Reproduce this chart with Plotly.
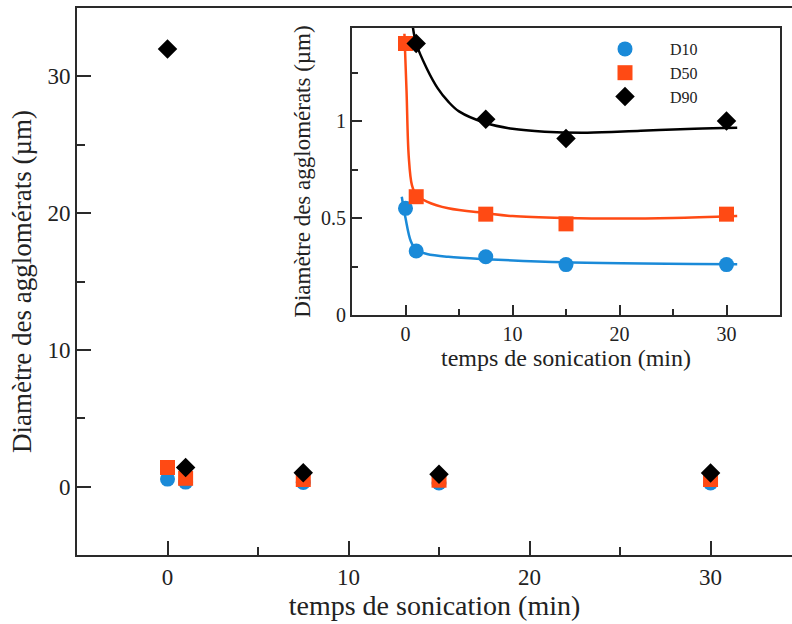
import plotly.graph_objects as go

# ---- data ----
t = [0, 1, 7.5, 15, 30]
d10 = [0.55, 0.33, 0.30, 0.26, 0.26]
d50 = [1.40, 0.61, 0.52, 0.47, 0.52]
d90_main = [32.0, 1.40, 1.01, 0.91, 1.00]
t90_inset = [1, 7.5, 15, 30]
d90_inset = [1.40, 1.01, 0.91, 1.00]

# fitted curves
fit10_x = [-0.35, 0, 0.5, 1, 2, 4, 7.5, 15, 31]
fit10_y = [0.61, 0.50, 0.38, 0.335, 0.315, 0.30, 0.288, 0.272, 0.262]
fit50_x = [-0.1, 0.1, 0.3, 0.6, 1, 2, 4, 7.5, 10, 15, 20, 25, 31]
fit50_y = [1.45, 1.15, 0.82, 0.67, 0.62, 0.585, 0.55, 0.525, 0.51, 0.50, 0.497, 0.50, 0.51]
fit90_x = [0.6, 1, 2, 3, 4, 5, 7.5, 10, 13, 17, 22, 27, 31]
fit90_y = [1.52, 1.40, 1.27, 1.17, 1.10, 1.05, 0.99, 0.96, 0.945, 0.94, 0.95, 0.96, 0.965]

BLUE = "#1a8ad8"
RED = "#ff4a14"
BLACK = "#000000"
FONT = "Liberation Serif"
AX = "#2a2a2a"

fig = go.Figure()

# main plot
fig.add_trace(go.Scatter(x=t, y=d10, mode="markers", showlegend=False,
                         marker=dict(symbol="circle", size=15, color=BLUE)))
fig.add_trace(go.Scatter(x=t, y=d50, mode="markers", showlegend=False,
                         marker=dict(symbol="square", size=15, color=RED)))
fig.add_trace(go.Scatter(x=t, y=d90_main, mode="markers", showlegend=False,
                         marker=dict(symbol="diamond", size=15, color=BLACK)))

# inset curves
for fx_, fy_, c in [(fit10_x, fit10_y, BLUE), (fit50_x, fit50_y, RED), (fit90_x, fit90_y, BLACK)]:
    fig.add_trace(go.Scatter(x=fx_, y=fy_, mode="lines", showlegend=False,
                             line=dict(color=c, width=2.5, shape="spline"),
                             xaxis="x2", yaxis="y2"))
# inset markers
fig.add_trace(go.Scatter(x=t, y=d10, mode="markers", name="D10",
                         marker=dict(symbol="circle", size=15, color=BLUE),
                         xaxis="x2", yaxis="y2"))
fig.add_trace(go.Scatter(x=t, y=d50, mode="markers", name="D50",
                         marker=dict(symbol="square", size=15, color=RED),
                         xaxis="x2", yaxis="y2"))
fig.add_trace(go.Scatter(x=t90_inset, y=d90_inset, mode="markers", name="D90",
                         marker=dict(symbol="diamond", size=15, color=BLACK),
                         xaxis="x2", yaxis="y2"))

W, H = 792, 624
ml, mr, mt, mb = 77, 0, 8, 69
pw, ph = W - ml - mr, H - mt - mb

def fx(px):
    return (px - ml) / pw

def fy(py):
    return (H - mb - py) / ph

fig.update_layout(
    width=W, height=H,
    margin=dict(l=ml, r=mr, t=mt, b=mb, autoexpand=False),
    paper_bgcolor="white", plot_bgcolor="white",
    font=dict(family=FONT, color="#222"),
    xaxis=dict(range=[-5, 34.5], tickvals=[0, 10, 20, 30], ticks="inside", ticklen=14,
               tickwidth=2, tickcolor=AX, showline=True, linecolor=AX, linewidth=2,
               mirror=True, showgrid=False, zeroline=False,
               minor=dict(tickvals=[5, 15, 25], ticks="inside", ticklen=8, tickwidth=2, tickcolor=AX),
               tickfont=dict(size=23, family=FONT),
               title=dict(text="temps de sonication (min)", font=dict(size=28, family=FONT), standoff=6)),
    yaxis=dict(range=[-5, 35], tickvals=[0, 10, 20, 30], ticks="inside", ticklen=14,
               tickwidth=2, tickcolor=AX, showline=True, linecolor=AX, linewidth=2,
               mirror=False, showgrid=False, zeroline=False,
               minor=dict(tickvals=[5, 15, 25], ticks="inside", ticklen=8, tickwidth=2, tickcolor=AX),
               tickfont=dict(size=23, family=FONT),
               title=dict(text="Diamètre des agglomérats (µm)", font=dict(size=27, family=FONT), standoff=8)),
    xaxis2=dict(domain=[fx(352), fx(780)], anchor="y2", range=[-5, 35],
                tickvals=[0, 10, 20, 30], ticks="inside", ticklen=10, tickwidth=1.5, tickcolor=AX,
                showline=True, linecolor=AX, linewidth=2, mirror=True, showgrid=False, zeroline=False,
                minor=dict(tickvals=[5, 15, 25], ticks="inside", ticklen=6, tickwidth=1.5, tickcolor=AX),
                tickfont=dict(size=20, family=FONT),
                title=dict(text="temps de sonication (min)", font=dict(size=24, family=FONT), standoff=4)),
    yaxis2=dict(domain=[fy(315), fy(28)], anchor="x2", range=[0, 1.48],
                tickvals=[0, 0.5, 1], ticktext=["0", "0.5", "1"], ticks="inside", ticklen=10,
                tickwidth=1.5, tickcolor=AX,
                showline=True, linecolor=AX, linewidth=2, mirror=True, showgrid=False, zeroline=False,
                minor=dict(tickvals=[0.25, 0.75, 1.25], ticks="inside", ticklen=6, tickwidth=1.5, tickcolor=AX),
                tickfont=dict(size=20, family=FONT),
                title=dict(text="Diamètre des agglomérats (µm)", font=dict(size=23, family=FONT), standoff=4)),
    legend=dict(x=fx(580), y=fy(32), xanchor="left", yanchor="top", bgcolor="rgba(0,0,0,0)",
                font=dict(size=16, family=FONT), itemwidth=80, tracegroupgap=0),
    shapes=[dict(type="rect", xref="paper", yref="paper", x0=fx(352), x1=fx(780),
                 y0=fy(315), y1=fy(28), fillcolor="white", line=dict(width=0), layer="below")],
)

fig.write_html("out.html", config={"displayModeBar": False},
               post_script="document.body.style.margin='0';document.body.style.overflow='hidden';")
